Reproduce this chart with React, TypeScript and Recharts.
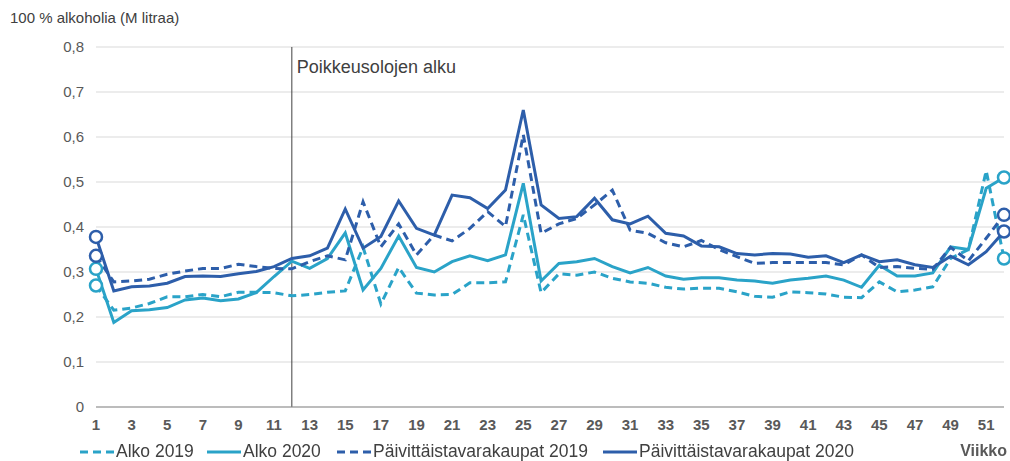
import { LineChart, Line, XAxis, YAxis, CartesianGrid, ReferenceLine } from 'recharts'

const weeks = [
    1, 2, 3, 4, 5, 6, 7, 8, 9, 10, 11, 12, 13, 14, 15, 16, 17, 18, 19, 20, 21, 22, 23, 24, 25, 26,
    27, 28, 29, 30, 31, 32, 33, 34, 35, 36, 37, 38, 39, 40, 41, 42, 43, 44, 45, 46, 47, 48, 49, 50, 51, 52,
]

const alko2019 = [
    0.27, 0.215, 0.22, 0.23, 0.245, 0.245, 0.25, 0.245, 0.255, 0.255, 0.254, 0.247, 0.25, 0.255, 0.258, 0.355,
    0.229, 0.31, 0.253, 0.249, 0.25, 0.276, 0.276, 0.278, 0.427, 0.254, 0.296, 0.293, 0.3, 0.286, 0.278, 0.275,
    0.266, 0.262, 0.264, 0.264, 0.256, 0.246, 0.244, 0.256, 0.254, 0.251, 0.244, 0.243, 0.278, 0.256, 0.26, 0.267,
    0.33, 0.35, 0.525, 0.33,
]

const alko2020 = [
    0.307, 0.188, 0.214, 0.216, 0.221, 0.238, 0.242, 0.236, 0.24, 0.254, 0.29, 0.324, 0.308, 0.33, 0.387, 0.26,
    0.308, 0.38, 0.31, 0.3, 0.323, 0.336, 0.325, 0.338, 0.497, 0.28, 0.319, 0.323, 0.33, 0.312, 0.298, 0.31,
    0.291, 0.284, 0.287, 0.287, 0.282, 0.28, 0.275, 0.282, 0.286, 0.291, 0.282, 0.266, 0.315, 0.291, 0.291, 0.298,
    0.356, 0.35, 0.486, 0.51,
]

const kaupat2019 = [
    0.336, 0.278, 0.28, 0.284, 0.295, 0.302, 0.308, 0.308, 0.317, 0.312, 0.308, 0.307, 0.323, 0.336, 0.327, 0.456,
    0.356, 0.407, 0.338, 0.382, 0.369, 0.397, 0.434, 0.401, 0.605, 0.386, 0.407, 0.419, 0.449, 0.482, 0.393, 0.386,
    0.365, 0.356, 0.37, 0.35, 0.334, 0.319, 0.321, 0.321, 0.321, 0.321, 0.316, 0.338, 0.31, 0.312, 0.308, 0.306,
    0.355, 0.325, 0.375, 0.427,
]

const kaupat2020 = [
    0.378, 0.258, 0.267, 0.269, 0.275, 0.29, 0.291, 0.29, 0.296, 0.301, 0.312, 0.33, 0.336, 0.353, 0.44, 0.353,
    0.379, 0.458, 0.397, 0.382, 0.471, 0.465, 0.441, 0.482, 0.66, 0.449, 0.419, 0.423, 0.464, 0.416, 0.407, 0.424,
    0.386, 0.38, 0.358, 0.356, 0.341, 0.338, 0.341, 0.34, 0.333, 0.336, 0.321, 0.338, 0.323, 0.327, 0.316, 0.31,
    0.335, 0.316, 0.345, 0.39,
]

const yTicks = [0, 0.1, 0.2, 0.3, 0.4, 0.5, 0.6, 0.7, 0.8]

const LIGHT = '#2aa3c8'
const DARK = '#2d5eaa'

const chartData = weeks.map((w, i) => ({
    week: w,
    alko2019: alko2019[i],
    alko2020: alko2020[i],
    kaupat2019: kaupat2019[i],
    kaupat2020: kaupat2020[i],
}))

const series = [
    { key: 'alko2019', name: 'Alko 2019', color: LIGHT, dash: '8 5' },
    { key: 'alko2020', name: 'Alko 2020', color: LIGHT, dash: undefined },
    { key: 'kaupat2019', name: 'Päivittäistavarakaupat 2019', color: DARK, dash: '8 5' },
    { key: 'kaupat2020', name: 'Päivittäistavarakaupat 2020', color: DARK, dash: undefined },
]

const legendLeft = [78, 205, 335, 601]

function endDot(color: string, key: string) {
    return (props: any) => {
        const { cx, cy, index } = props
        if (index !== 0 && index !== weeks.length - 1) {
            return <g key={`${key}-${index}`} />
        }
        return (
            <circle key={`${key}-${index}`} cx={cx} cy={cy} r={6} fill="#fff" stroke={color} strokeWidth={2.5} />
        )
    }
}

const FONT = "'Liberation Sans', Arial, sans-serif"
const NARROW = "'Liberation Sans Narrow', 'Liberation Sans', Arial"

export default function App() {
    return (
        <div style={{ position: 'fixed', left: 0, top: 0, width: 1010, height: 461, fontFamily: FONT, background: '#fff' }}>
            <div style={{ position: 'absolute', left: 10, top: 9, fontSize: 15, color: '#404040' }}>
                100 % alkoholia (M litraa)
            </div>
            <LineChart
                width={1010}
                height={461}
                data={chartData}
                margin={{ top: 47, right: 6, left: 0, bottom: 24 }}
            >
                <CartesianGrid vertical={false} stroke="#d9d9d9" />
                <XAxis
                    dataKey="week"
                    interval={1}
                    height={30}
                    stroke="#8c8c8c"
                    tickLine={false}
                    tickMargin={6}
                    tick={{ fill: '#595959', fontSize: 15, fontWeight: 'bold', fontFamily: NARROW }}
                />
                <YAxis
                    width={96}
                    domain={[0, 0.8]}
                    ticks={yTicks}
                    axisLine={false}
                    tickLine={false}
                    tickMargin={6}
                    tick={{ fill: '#595959', fontSize: 15, fontFamily: FONT }}
                    tickFormatter={(v: number) => (v === 0 ? '0' : v.toFixed(1).replace('.', ','))}
                />
                <ReferenceLine
                    x={12}
                    stroke="#404040"
                    strokeWidth={1}
                    label={{ value: 'Poikkeusolojen alku', position: 'insideTopLeft', fill: '#404040', fontSize: 18, offset: 5, dy: 8 }}
                />
                {series.map((s) => (
                    <Line
                        key={s.key}
                        type="linear"
                        dataKey={s.key}
                        name={s.name}
                        stroke={s.color}
                        strokeWidth={3}
                        strokeDasharray={s.dash}
                        dot={endDot(s.color, s.key)}
                        activeDot={false}
                        isAnimationActive={false}
                    />
                ))}
            </LineChart>
            {series.map((s, i) => (
                <div
                    key={s.key}
                    style={{ position: 'absolute', left: legendLeft[i], top: 441, display: 'flex', alignItems: 'center', fontSize: 17.5, color: '#404040', whiteSpace: 'nowrap' }}
                >
                    <svg width={38} height={10}>
                        <line x1={2} y1={5} x2={36} y2={5} stroke={s.color} strokeWidth={3} strokeDasharray={s.dash} />
                    </svg>
                    <span>{s.name}</span>
                </div>
            ))}
            <div style={{ position: 'absolute', right: 3, top: 442, fontSize: 16, fontWeight: 'bold', color: '#595959', fontFamily: NARROW, whiteSpace: 'nowrap' }}>
                Viikko
            </div>
        </div>
    )
}
